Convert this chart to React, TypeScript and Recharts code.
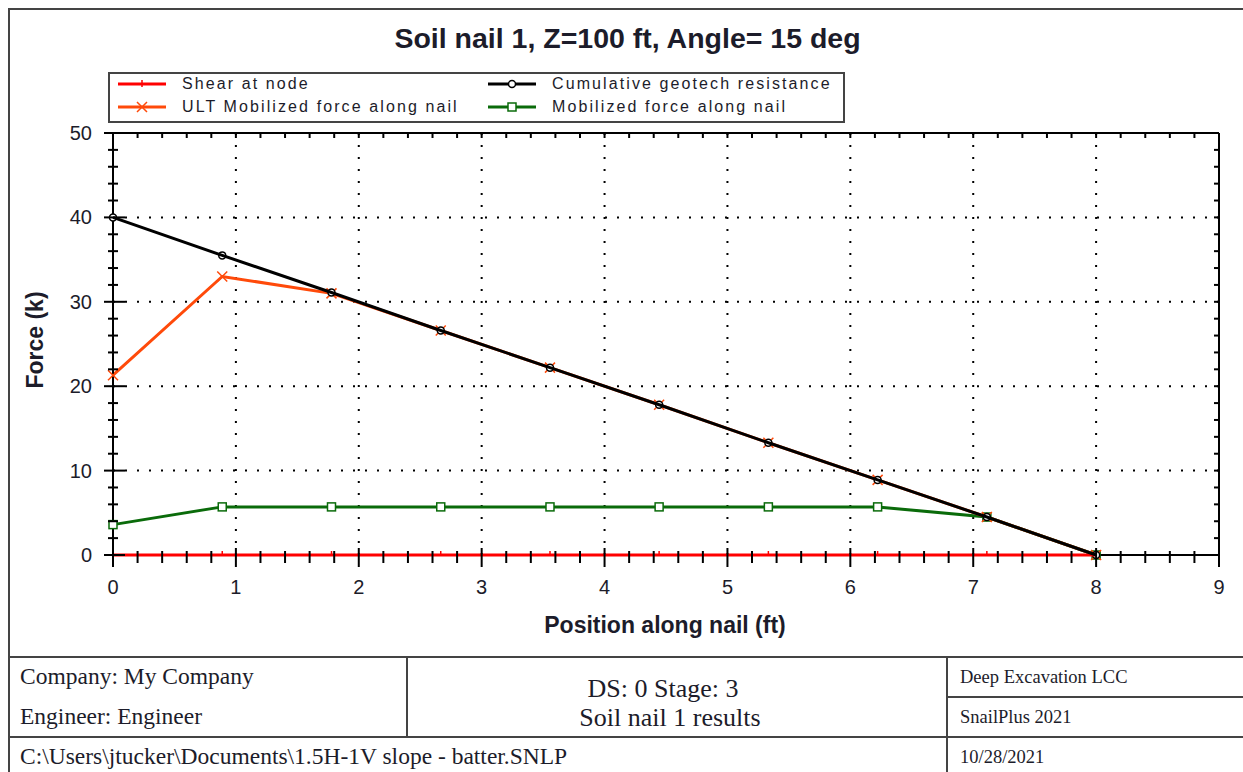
import { LineChart, Line, XAxis, YAxis, ReferenceLine } from "recharts";

// nodes along the nail (ft)
const positions = [0, 0.889, 1.778, 2.667, 3.556, 4.444, 5.333, 6.222, 7.111, 8];
const shearAtNode = [0, 0, 0, 0, 0, 0, 0, 0, 0, 0];
const cumulativeResistance = [40, 35.5, 31.1, 26.6, 22.2, 17.8, 13.3, 8.9, 4.5, 0];
const ultMobilizedForce = [21.3, 33.0, 31.0, 26.6, 22.2, 17.8, 13.3, 8.9, 4.5, 0];
const mobilizedForce = [3.6, 5.7, 5.7, 5.7, 5.7, 5.7, 5.7, 5.7, 4.5, 0];

const xGridValues = [1, 2, 3, 4, 5, 6, 7, 8];
const yGridValues = [10, 20, 30, 40];
const xTicks = Array.from({ length: 46 }, (_, i) => i * 0.2);
const yTicks = Array.from({ length: 26 }, (_, i) => i * 2);

const data = positions.map((x, i) => ({
  x,
  shear: shearAtNode[i],
  cumulative: cumulativeResistance[i],
  ult: ultMobilizedForce[i],
  mobilized: mobilizedForce[i],
}));

const SANS = "'Liberation Sans', Arial, sans-serif";
const SERIF = "'Liberation Serif', 'Times New Roman', serif";
const TEXT = "#1c1c2a";
const FRAME = "#444";

const isMajor = (v: number, step: number) => Math.abs(v / step - Math.round(v / step)) < 1e-6;

function BottomTick({ x, y, payload }: any) {
  const major = isMajor(payload.value, 1);
  return (
    <g>
      <line x1={x} x2={x} y1={y - (major ? 7 : 4)} y2={y + (major ? 12 : 8)} stroke="#000" strokeWidth={2} />
      {major && (
        <text x={x} y={y + 39} textAnchor="middle" fontSize={20} fontFamily={SANS} fill={TEXT}>
          {Math.round(payload.value)}
        </text>
      )}
    </g>
  );
}

function LeftTick({ x, y, payload }: any) {
  const major = isMajor(payload.value, 10);
  return (
    <g>
      <line x1={x - (major ? 9 : 5)} x2={x + (major ? 12 : 5)} y1={y} y2={y} stroke="#000" strokeWidth={2} />
      {major && (
        <text x={x - 21} y={y + 7} textAnchor="end" fontSize={20} fontFamily={SANS} fill={TEXT}>
          {Math.round(payload.value)}
        </text>
      )}
    </g>
  );
}

function TopTick({ x, y }: any) {
  return <line x1={x} x2={x} y1={y} y2={y + 5} stroke="#000" strokeWidth={2} />;
}

function RightTick({ x, y }: any) {
  return <line x1={x - 5} x2={x} y1={y} y2={y} stroke="#000" strokeWidth={2} />;
}

// markers
const shearDot = ({ cx, cy, index }: any) => (
  <line key={`s${index}`} x1={cx} x2={cx} y1={cy - 4} y2={cy + 1} stroke="#ff0000" strokeWidth={1.5} />
);
const ultDot = ({ cx, cy, index }: any) => (
  <path key={`u${index}`} d={`M${cx - 5},${cy - 5}L${cx + 5},${cy + 5}M${cx - 5},${cy + 5}L${cx + 5},${cy - 5}`} stroke="#ff4a0a" strokeWidth={1.5} />
);
const cumDot = ({ cx, cy, index }: any) => (
  <circle key={`c${index}`} cx={cx} cy={cy} r={3.5} fill="#fff" stroke="#000" strokeWidth={1.5} />
);
const mobDot = ({ cx, cy, index }: any) => (
  <rect key={`m${index}`} x={cx - 4} y={cy - 4} width={8} height={8} fill="#fff" stroke="#0a6b0a" strokeWidth={1.5} />
);

function LegendSample({ color, marker }: { color: string; marker: string }) {
  return (
    <svg width={48} height={14} style={{ display: "block" }}>
      <line x1={0} x2={48} y1={7} y2={7} stroke={color} strokeWidth={3} />
      {marker === "tick" && <line x1={24} x2={24} y1={3} y2={10} stroke={color} strokeWidth={1.5} />}
      {marker === "x" && <path d="M19,2L29,12M19,12L29,2" stroke={color} strokeWidth={1.5} />}
      {marker === "circle" && <circle cx={24} cy={7} r={3.5} fill="#fff" stroke={color} strokeWidth={1.5} />}
      {marker === "square" && <rect x={20} y={3} width={8} height={8} fill="#fff" stroke={color} strokeWidth={1.5} />}
    </svg>
  );
}

const legendItems = [
  { label: "Shear at node", color: "#ff0000", marker: "tick", left: 118, top: 84 },
  { label: "ULT Mobilized force along nail", color: "#ff4a0a", marker: "x", left: 118, top: 107 },
  { label: "Cumulative geotech resistance", color: "#000000", marker: "circle", left: 488, top: 84 },
  { label: "Mobilized force along nail", color: "#0a6b0a", marker: "square", left: 488, top: 107 },
];

function Txt({ x, y, children, style }: any) {
  return (
    <div
      style={{
        position: "absolute",
        left: x,
        top: y,
        transform: "translateY(-50%)",
        whiteSpace: "nowrap",
        lineHeight: 1,
        ...style,
      }}
    >
      {children}
    </div>
  );
}

function HLine({ x, y, w }: any) {
  return <div style={{ position: "absolute", left: x, top: y - 1, width: w, height: 2, background: FRAME }} />;
}
function VLine({ x, y, h }: any) {
  return <div style={{ position: "absolute", left: x - 1, top: y, width: 2, height: h, background: FRAME }} />;
}

export default function App() {
  return (
    <div style={{ position: "absolute", left: 0, top: 0, width: 1243, height: 772, overflow: "hidden", background: "#fff" }}>
      <div style={{ position: "absolute", left: 0, top: 0 }}>
        <LineChart width={1243} height={772} data={data} margin={{ top: 132, right: 23, bottom: 216, left: 112 }}>
          <XAxis
            dataKey="x"
            type="number"
            domain={[0, 9]}
            ticks={xTicks}
            interval={0}
            height={1}
            tickSize={0}
            tickMargin={0}
            tickLine={false}
            axisLine={{ stroke: "#000", strokeWidth: 2 }}
            tick={BottomTick}
          />
          <XAxis
            xAxisId="top"
            orientation="top"
            dataKey="x"
            type="number"
            domain={[0, 9]}
            ticks={xTicks}
            interval={0}
            height={1}
            tickSize={0}
            tickMargin={0}
            tickLine={false}
            axisLine={{ stroke: "#000", strokeWidth: 2 }}
            tick={TopTick}
          />
          <YAxis
            type="number"
            domain={[0, 50]}
            ticks={yTicks}
            interval={0}
            width={1}
            tickSize={0}
            tickMargin={0}
            tickLine={false}
            axisLine={{ stroke: "#000", strokeWidth: 2 }}
            tick={LeftTick}
          />
          <YAxis
            yAxisId="right"
            orientation="right"
            type="number"
            domain={[0, 50]}
            ticks={yTicks}
            interval={0}
            width={1}
            tickSize={0}
            tickMargin={0}
            tickLine={false}
            axisLine={{ stroke: "#000", strokeWidth: 2 }}
            tick={RightTick}
          />
          {xGridValues.map((v) => (
            <ReferenceLine key={`gx${v}`} x={v} stroke="#000" strokeWidth={2} strokeDasharray="2 10" />
          ))}
          {yGridValues.map((v) => (
            <ReferenceLine key={`gy${v}`} y={v} stroke="#000" strokeWidth={2} strokeDasharray="2 10" />
          ))}
          <Line
            xAxisId="top"
            yAxisId="right"
            dataKey="cumulative"
            stroke="none"
            dot={false}
            activeDot={false}
            legendType="none"
            isAnimationActive={false}
          />
          <Line dataKey="shear" stroke="#ff0000" strokeWidth={3} dot={shearDot} activeDot={false} isAnimationActive={false} zIndex={700} />
          <Line dataKey="mobilized" stroke="#0a6b0a" strokeWidth={3} dot={mobDot} activeDot={false} isAnimationActive={false} />
          <Line dataKey="ult" stroke="#ff4a0a" strokeWidth={3} dot={ultDot} activeDot={false} isAnimationActive={false} />
          <Line dataKey="cumulative" stroke="#000" strokeWidth={3} dot={cumDot} activeDot={false} isAnimationActive={false} zIndex={710} />
        </LineChart>
      </div>

      {/* frame */}
      <VLine x={9} y={8} h={764} />
      <HLine x={8} y={9} w={1240} />

      {/* title */}
      <div
        style={{
          position: "absolute",
          left: 0,
          width: 1255,
          top: 38,
          transform: "translateY(-50%)",
          textAlign: "center",
          fontFamily: SANS,
          fontWeight: "bold",
          fontSize: 28.5,
          color: TEXT,
          lineHeight: 1,
        }}
      >
        Soil nail 1, Z=100 ft, Angle= 15 deg
      </div>

      {/* legend */}
      <div style={{ position: "absolute", left: 108, top: 72, width: 733, height: 47, border: `2px solid ${FRAME}` }} />
      {legendItems.map((it) => (
        <div
          key={it.label}
          style={{ position: "absolute", left: it.left, top: it.top, transform: "translateY(-50%)", display: "flex", alignItems: "center" }}
        >
          <LegendSample color={it.color} marker={it.marker} />
          <span style={{ marginLeft: 16, fontFamily: SANS, fontSize: 16, letterSpacing: 2.1, color: TEXT, whiteSpace: "nowrap" }}>{it.label}</span>
        </div>
      ))}

      {/* axis titles */}
      <div
        style={{
          position: "absolute",
          left: 0,
          width: 1330,
          top: 625,
          transform: "translateY(-50%)",
          textAlign: "center",
          fontFamily: SANS,
          fontWeight: "bold",
          fontSize: 23,
          color: TEXT,
          lineHeight: 1,
        }}
      >
        Position along nail (ft)
      </div>
      <div
        style={{
          position: "absolute",
          left: 35,
          top: 340,
          transform: "translate(-50%, -50%) rotate(-90deg)",
          fontFamily: SANS,
          fontWeight: "bold",
          fontSize: 23,
          color: TEXT,
          whiteSpace: "nowrap",
          lineHeight: 1,
        }}
      >
        Force (k)
      </div>

      {/* footer table */}
      <HLine x={8} y={657} w={1240} />
      <HLine x={947} y={697} w={300} />
      <HLine x={8} y={737} w={1240} />
      <VLine x={407} y={657} h={80} />
      <VLine x={947} y={657} h={115} />

      <Txt x={20} y={677} style={{ fontFamily: SERIF, fontSize: 23.5, color: TEXT }}>Company: My Company</Txt>
      <Txt x={20} y={717} style={{ fontFamily: SERIF, fontSize: 23.5, color: TEXT }}>Engineer: Engineer</Txt>
      <Txt x={20} y={757} style={{ fontFamily: SERIF, fontSize: 23.5, color: TEXT }}>
        C:\Users\jtucker\Documents\1.5H-1V slope - batter.SNLP
      </Txt>
      <div style={{ position: "absolute", left: 393, width: 540, top: 689, transform: "translateY(-50%)", textAlign: "center", fontFamily: SERIF, fontSize: 26, color: TEXT, lineHeight: 1 }}>
        DS: 0 Stage: 3
      </div>
      <div style={{ position: "absolute", left: 400, width: 540, top: 718, transform: "translateY(-50%)", textAlign: "center", fontFamily: SERIF, fontSize: 26, color: TEXT, lineHeight: 1 }}>
        Soil nail 1 results
      </div>
      <Txt x={960} y={677} style={{ fontFamily: SERIF, fontSize: 18.5, color: TEXT }}>Deep Excavation LCC</Txt>
      <Txt x={960} y={717} style={{ fontFamily: SERIF, fontSize: 18.5, color: TEXT }}>SnailPlus 2021</Txt>
      <Txt x={960} y={757} style={{ fontFamily: SERIF, fontSize: 18.5, color: TEXT }}>10/28/2021</Txt>
    </div>
  );
}
